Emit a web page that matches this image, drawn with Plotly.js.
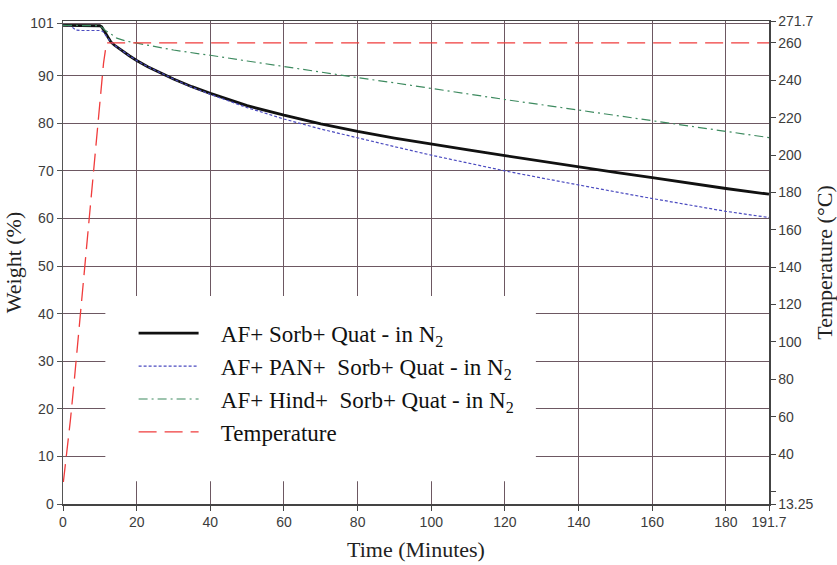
<!DOCTYPE html>
<html><head><meta charset="utf-8">
<script src="https://cdn.plot.ly/plotly-3.0.1.min.js"></script>
<style>html,body{margin:0;padding:0;background:#fff}</style>
</head><body><div id="chart" style="width:837px;height:565px"></div>
<script>
// AF+ Sorb+ Quat - in N2 (weight %, left axis)
const timeSorb = [0, 5, 10, 10.5, 11, 11.5, 12, 13, 14, 15, 16, 18, 20, 23, 26, 30, 35, 40, 50, 60, 70, 80, 90, 100, 110, 120, 130, 140, 150, 160, 170, 180, 191.7];
const weightSorb = [100.6, 100.6, 100.5, 100.3, 99.6, 98.9, 98.3, 97.1, 96.4, 95.8, 95.2, 94.2, 93.2, 91.9, 90.8, 89.3, 87.7, 86.3, 83.7, 81.7, 79.9, 78.3, 76.9, 75.6, 74.4, 73.2, 72.0, 70.9, 69.7, 68.6, 67.4, 66.3, 65.1];

// AF+ PAN+ Sorb+ Quat - in N2
const timePan = [0, 2, 3.5, 5, 10, 10.8, 11.5, 12, 13, 14, 16, 18, 20, 23, 26, 30, 35, 40, 50, 60, 70, 80, 90, 100, 110, 120, 130, 140, 150, 160, 170, 180, 191.7];
const weightPan = [100.6, 100.5, 99.6, 99.5, 99.5, 99.3, 98.6, 98.1, 97.1, 96.4, 95.2, 94.2, 93.2, 91.9, 90.8, 89.3, 87.6, 86.1, 83.3, 80.9, 78.8, 76.9, 75.1, 73.3, 71.6, 70.0, 68.5, 67.0, 65.6, 64.2, 62.8, 61.5, 60.2];

// AF+ Hind+ Sorb+ Quat - in N2
const timeHind = [0, 5, 10, 10.8, 11.5, 12.8, 14.6, 17, 21, 26, 30, 37, 40, 50, 60, 70, 80, 90, 100, 110, 120, 130, 140, 150, 160, 170, 180, 191.7];
const weightHind = [100.6, 100.6, 100.5, 100.0, 99.5, 98.9, 97.9, 97.3, 96.7, 95.9, 95.4, 94.6, 94.3, 93.1, 91.9, 90.8, 89.6, 88.5, 87.3, 86.2, 85.0, 83.9, 82.8, 81.7, 80.6, 79.4, 78.3, 77.0];

// Temperature (°C, right axis)
const timeTemp = [0.1, 1, 2, 3, 4, 5, 6, 7, 8, 9, 10, 11, 11.8, 191.7];
const tempC = [25, 40, 58, 78, 99, 120, 141, 162, 184, 207, 228, 249, 260, 260];

const xTicks = [0, 20, 40, 60, 80, 100, 120, 140, 160, 180, 191.7];
const xTickText = ['0', '20', '40', '60', '80', '100', '120', '140', '160', '180', '191.7'];
const yTicks = [0, 10, 20, 30, 40, 50, 60, 70, 80, 90, 101];
const yTickText = ['0', '10', '20', '30', '40', '50', '60', '70', '80', '90', '101'];
const y2Ticks = [13.25, 40, 60, 80, 100, 120, 140, 160, 180, 200, 220, 240, 260, 271.7];
const y2TickText = ['13.25', '40', '60', '80', '100', '120', '140', '160', '180', '200', '220', '240', '260', '271.7'];
const y2MinorTicks = [20];

const pad = '\u00A0\u00A0\u00A0';
const seriesNames = [
  pad + 'AF+ Sorb+ Quat - in N<sub>2</sub>',
  pad + 'AF+ PAN+ \u00A0Sorb+ Quat - in N<sub>2</sub>',
  pad + 'AF+ Hind+ \u00A0Sorb+ Quat - in N<sub>2</sub>',
  pad + 'Temperature'
];

const gridColor = '#6d5862';
const tickFont = {family: 'Liberation Sans, Arial, sans-serif', size: 14, color: '#3c3c3c'};
const serif = 'Liberation Serif, Times New Roman, serif';

const traces = [
  {x: timeSorb, y: weightSorb, name: seriesNames[0], type: 'scatter', mode: 'lines',
   line: {color: '#111111', width: 2.8}},
  {x: timePan, y: weightPan, name: seriesNames[1], type: 'scatter', mode: 'lines',
   line: {color: '#4b4bc0', width: 1.2, dash: '3px,2px'}},
  {x: timeHind, y: weightHind, name: seriesNames[2], type: 'scatter', mode: 'lines',
   line: {color: '#3d8a5f', width: 1.2, dash: '9px,4px,2px,4px'}},
  {x: timeTemp, y: tempC, name: seriesNames[3], type: 'scatter', mode: 'lines', yaxis: 'y2',
   line: {color: '#f03c3c', width: 1.3, dash: '18px,8px'}}
];

const layout = {
  width: 837, height: 565,
  margin: {l: 63, r: 68, t: 21, b: 61},
  paper_bgcolor: '#ffffff', plot_bgcolor: '#ffffff',
  showlegend: true,
  legend: {x: 0.1, y: 0.398, xanchor: 'left', yanchor: 'top', bgcolor: 'rgba(0,0,0,0)',
           font: {family: serif, size: 23, color: '#111'}, itemwidth: 60, traceorder: 'normal'},
  xaxis: {range: [0, 191.7], tickmode: 'array', tickvals: xTicks, ticktext: xTickText,
          ticks: 'outside', ticklen: 5, tickcolor: '#444', showline: true, linecolor: '#444', linewidth: 1.5,
          mirror: true, showgrid: true, gridcolor: gridColor, gridwidth: 1, zeroline: false,
          tickfont: tickFont,
          title: {text: 'Time (Minutes)', font: {family: serif, size: 22, color: '#222'}, standoff: 12}},
  yaxis: {range: [0, 101.5], tickmode: 'array', tickvals: yTicks, ticktext: yTickText,
          ticks: 'outside', ticklen: 5, tickcolor: '#555', showline: true, linecolor: '#555', linewidth: 1.5,
          showgrid: true, gridcolor: gridColor, gridwidth: 1, zeroline: false,
          tickfont: tickFont,
          title: {text: 'Weight (%)', font: {family: serif, size: 22, color: '#222'}, standoff: 2}},
  yaxis2: {overlaying: 'y', side: 'right', range: [13.25, 271.7], tickmode: 'array', tickvals: y2Ticks, ticktext: y2TickText,
           ticks: 'outside', ticklen: 5, tickcolor: '#444', showline: true, linecolor: '#444', linewidth: 1.5,
           minor: {tickmode: 'array', tickvals: y2MinorTicks, ticks: 'outside', ticklen: 5, tickcolor: '#444', showgrid: false},
           showgrid: false, zeroline: false, tickfont: tickFont,
           title: {text: 'Temperature (°C)', font: {family: serif, size: 22, color: '#222'}, standoff: 4}},
  shapes: [
    {type: 'rect', xref: 'x', yref: 'y', x0: 11.5, x1: 128.4, y0: 4.8, y1: 43.7,
     fillcolor: '#ffffff', line: {width: 0}, layer: 'between'}
  ]
};

Plotly.newPlot('chart', traces, layout, {displayModeBar: false, staticPlot: true});
</script>
</body></html>
